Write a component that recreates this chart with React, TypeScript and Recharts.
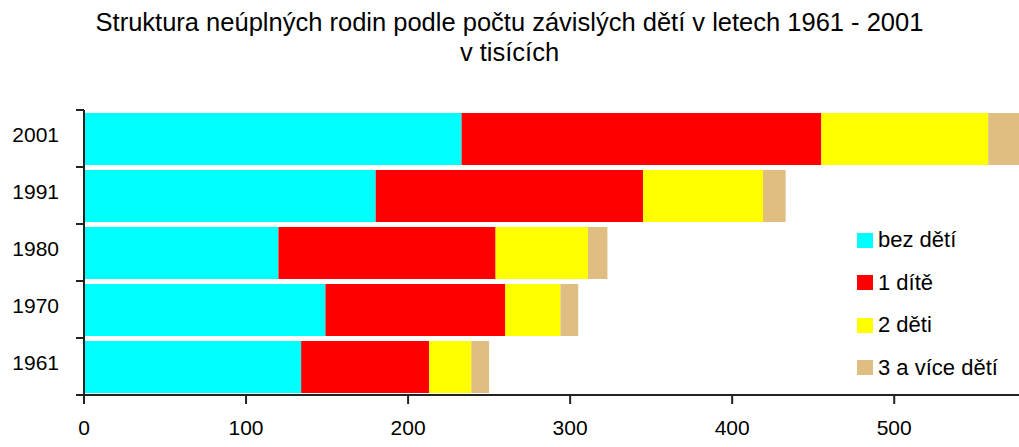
import { Bar, BarChart, XAxis, YAxis } from 'recharts';

const years = ['2001', '1991', '1980', '1970', '1961'];
const bezDeti = [233, 180, 120, 149, 134];
const jednoDite = [222, 165, 134, 111, 79];
const dveDeti = [103, 74, 57, 34, 26];
const triAVice = [25, 14, 12, 11, 11];
const xTicks = [0, 100, 200, 300, 400, 500];

const series = [
  { key: 'bez', name: 'bez dětí', color: '#00ffff', values: bezDeti },
  { key: 'jedno', name: '1 dítě', color: '#ff0000', values: jednoDite },
  { key: 'dve', name: '2 děti', color: '#ffff00', values: dveDeti },
  { key: 'tri', name: '3 a více dětí', color: '#e0be82', values: triAVice },
];

const data = years.map((year, i) => {
  const row: Record<string, string | number> = { year };
  series.forEach((s) => {
    row[s.key] = s.values[i];
  });
  return row;
});

const font = "'Liberation Sans', Arial, sans-serif";
const axisColor = '#222';
const BAND = 57;

function YearTick(props: any) {
  const { y, payload, index } = props;
  const last = index === years.length - 1;
  return (
    <g>
      <line x1={76} x2={84} y1={y - BAND / 2} y2={y - BAND / 2} stroke={axisColor} strokeWidth={2} />
      {last && <line x1={76} x2={84} y1={y + BAND / 2} y2={y + BAND / 2} stroke={axisColor} strokeWidth={2} />}
      <text x={59} y={y + 3} textAnchor="end" fontSize={21} fontFamily={font} fill="#000">
        {payload.value}
      </text>
    </g>
  );
}

function LegendBox() {
  return (
    <div style={{ position: 'absolute', left: 857, top: 219, fontFamily: font, fontSize: 22, color: '#000' }}>
      {series.map((s) => (
        <div key={s.key} style={{ display: 'flex', alignItems: 'center', height: 42.5 }}>
          <span style={{ width: 16, height: 15, background: s.color, marginRight: 5, display: 'inline-block' }} />
          <span style={{ lineHeight: '22px', whiteSpace: 'nowrap' }}>{s.name}</span>
        </div>
      ))}
    </div>
  );
}

export default function App() {
  return (
    <div style={{ position: 'absolute', left: 0, top: 0, width: 1019, height: 447, background: '#fff', fontFamily: font }}>
      <div
        style={{
          position: 'absolute',
          left: 0,
          top: 7,
          width: 1019,
          textAlign: 'center',
          fontSize: 25.5,
          lineHeight: '30px',
          color: '#000',
        }}
      >
        <div>Struktura neúplných rodin podle počtu závislých dětí v letech 1961 - 2001</div>
        <div>v tisících</div>
      </div>
      <BarChart
        width={1019}
        height={447}
        data={data}
        layout="vertical"
        margin={{ top: 110, right: 0, bottom: 0, left: 0 }}
        barSize={52}
        style={{ position: 'absolute', left: 0, top: 0 }}
      >
        <XAxis
          type="number"
          domain={[0, 577]}
          allowDataOverflow
          ticks={xTicks}
          height={52}
          tickSize={9}
          tickMargin={16}
          axisLine={{ stroke: axisColor, strokeWidth: 2 }}
          tickLine={{ stroke: axisColor, strokeWidth: 2 }}
          tick={{ fill: '#000', fontSize: 21, fontFamily: font }}
        />
        <YAxis
          type="category"
          dataKey="year"
          width={84}
          axisLine={{ stroke: axisColor, strokeWidth: 2 }}
          tickLine={false}
          tick={<YearTick />}
          interval={0}
        />
        {series.map((s) => (
          <Bar key={s.key} dataKey={s.key} name={s.name} stackId="a" fill={s.color} isAnimationActive={false} />
        ))}
      </BarChart>
      <LegendBox />
    </div>
  );
}
